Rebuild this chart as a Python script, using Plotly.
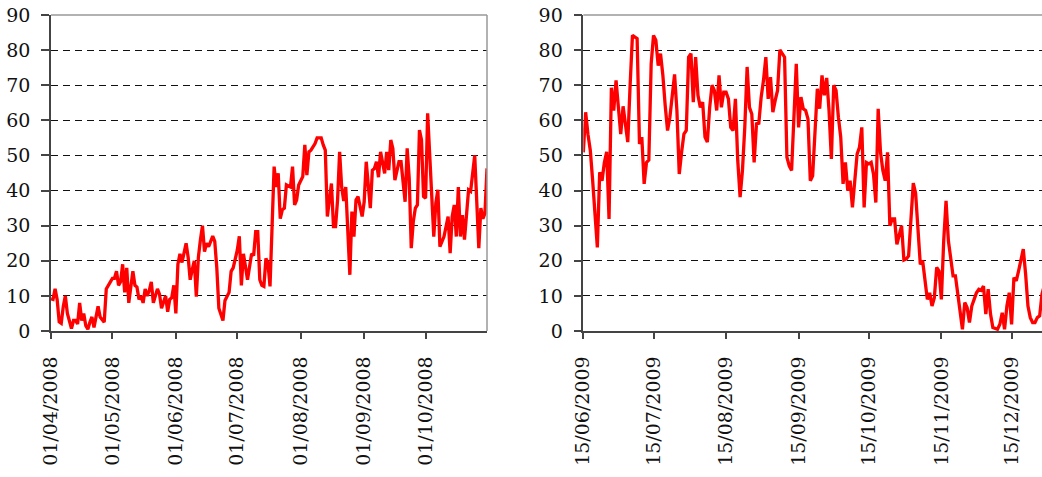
import pandas as pd
import plotly.graph_objects as go

# ---- data ----
left_start = "2008-04-01"
left_day = [0,1,2,3,4,5,6,7,8,9,10,11,12,13,14,15,16,17,18,19,20,21,23,24,26,27,28,30,31,32,33,34,35,36,37,38,40,41,42,43,44,45,46,47,48,49,50,52,53,54,56,57,58,59,60,61,62,63,64,66,67,68,69,70,71,72,73,74,75,76,77,79,80,81,82,83,84,85,87,88,89,91,92,93,94,95,96,98,99,100,101,102,103,104,105,106,107,108,109,110,111,112,113,114,115,117,118,119,120,121,123,124,125,126,127,129,130,131,132,133,134,135,137,138,139,140,141,142,143,144,145,146,147,148,149,150,152,153,154,156,157,158,159,160,161,163,164,165,166,167,168,170,171,173,174,175,176,177,178,179,180,181,182,183,184,186,187,188,189,190,192,194,195,196,197,198,199,200,201,202,203,204,205,207,209,210,211,212,213]
left_val = [9.2,9,12,9,2.6,2.2,7,10,5,3,0.7,3,3,2,8,3,5,1.5,0.5,2.5,4,1,7,4,2.5,12,13,15,15,17,13,14,19,11,18,8,17,13,12.5,9,10,8,12,10,11.5,14,8,12,10.5,6.5,10,5.5,9,9.5,13,5,19,22,19.5,25,21,14.6,17.5,20,9.8,21,26,30,22.6,25,24,27,25.5,18,6.5,5,3,8.7,11,17,18,23,27,13,22,18.4,14.6,22,21.5,28.3,28.3,14.6,13,12.7,20.7,19.3,12.7,29.7,46.8,41,44.9,32,34.5,35,41.6,41,46.8,35.9,37.3,41.6,44,53,44.4,51,51.5,53.4,55,55,55,53,51.5,32.6,42,29.7,29.7,37.3,51,41,37,41,26,16,34,26.9,37.3,38.3,32.6,36.8,48.2,35,45.8,46.3,48.2,43.8,51,44.9,51,45.8,54.4,52,43,48.2,48.2,36.8,52,43.5,23.6,31.2,35,35.9,57.2,54.4,38.3,37.8,62,36.4,26.9,36.4,40.2,24,26.9,32.6,22.2,32.6,35.9,26.9,41,26.9,33,26,32.6,40.2,39.8,50,23.6,35,32,33.5,46.3]

right_start = "2009-06-15"
right_day = [0,1,2,3,4,6,7,8,9,10,11,12,13,14,15,16,17,18,19,20,21,23,24,25,26,27,28,29,30,31,32,33,34,35,36,37,38,39,40,41,42,43,44,45,46,47,48,49,50,51,52,53,54,55,56,57,58,59,60,61,62,63,64,65,66,67,68,69,70,71,72,73,74,75,76,77,78,79,80,81,82,83,84,85,86,87,88,89,91,92,93,94,95,96,97,98,100,101,102,103,104,105,106,107,108,109,110,111,112,113,114,115,116,117,118,119,120,121,122,123,124,125,126,127,128,129,130,131,132,133,134,135,136,137,138,139,140,141,142,143,144,145,146,147,148,149,150,151,152,153,154,155,156,157,158,159,160,161,162,163,164,165,166,167,168,169,170,171,172,173,174,175,177,178,179,180,181,182,183,184,185,186,187,188,189,190,191,192,193,194,195,196,197]
right_val = [50.9,62.3,56,51.4,42.8,23.8,45.2,42.8,48,51,31.9,69.3,62.8,71.4,63.7,56.1,64,58,53.8,70,84.2,83.3,53.3,55.2,41.9,48,48.7,76.1,84.2,82.8,75.6,79,72.8,64.2,57.1,60.9,66.6,73.1,62.8,44.7,50.9,56.1,57.1,78,79,65.2,78,67.1,63.7,65.2,55.2,53.8,63.7,70,68.5,62.8,72.8,63.7,68,68,66.1,58,57.1,66.1,48.5,38.1,45.7,58,75.2,63.7,61.8,48,59,59.2,66.6,71.4,78,66.1,72.3,62.3,65.7,68.5,80.1,79,78,49.5,47,45.7,76.1,58,66.6,63.3,62.8,60.4,42.8,44.2,69,63.3,72.8,67.1,72.1,62.8,49,70,68.5,60.9,55.2,41.9,48,40,42.8,35.2,43.8,50.4,52.3,58,35.2,48,47.6,48,44.7,36.6,63.3,50.9,45.7,42.8,50.9,30,31.9,31.9,24.7,27.1,30,20.2,20.5,21.4,33.3,42.1,39.2,27.6,19,20,15.2,9,10.9,7.1,9.5,18.1,17.1,9,25.7,37.1,25.7,20.9,15.7,15.7,10.9,5.7,0.5,8.1,6.7,2.4,7.1,9,10.9,11.9,11.6,12.8,4.8,11.9,4.8,1,0.5,1.9,5.2,0.5,7.1,10.9,1.9,15.2,14.3,17.1,20.5,23.3,16.2,7.1,3.8,2.4,2.4,3.8,4.3,10.5,13]

y_ticks = [0, 10, 20, 30, 40, 50, 60, 70, 80, 90]

left_dates = pd.Timestamp(left_start) + pd.to_timedelta(left_day, unit="D")
right_dates = pd.Timestamp(right_start) + pd.to_timedelta(right_day, unit="D")

W, H = 1042, 477
ML, MR, MT, MB = 51, 0, 15, 146
PW = W - ML - MR
left_dom = [0, 436 / PW]
right_dom = [532.3 / PW, 1.0]

RED = "#FF0000"
FONT = "DejaVu Serif"

fig = go.Figure()
fig.add_trace(go.Scatter(x=left_dates, y=left_val, mode="lines",
                         line=dict(color=RED, width=3.3), xaxis="x", yaxis="y",
                         showlegend=False, hoverinfo="skip"))
fig.add_trace(go.Scatter(x=right_dates, y=right_val, mode="lines",
                         line=dict(color=RED, width=3.3), xaxis="x2", yaxis="y2",
                         showlegend=False, hoverinfo="skip"))

xcommon = dict(type="date", dtick="M1", tickformat="%d/%m/%Y", tickangle=-90,
               ticks="outside", ticklen=6, tickcolor="#444", tickwidth=1.5,
               showline=True, linecolor="#444", linewidth=1.5,
               showgrid=False, zeroline=False, ticklabeloverflow="allow",
               tickfont=dict(family=FONT, size=19, color="#111"),
               ticklabelstandoff=10)
ycommon = dict(range=[0, 90], tickvals=y_ticks, ticks="outside", ticklen=8,
               tickcolor="#444", tickwidth=1.5,
               showline=True, linecolor="#444", linewidth=1.5,
               showgrid=True, gridcolor="#111", gridwidth=1, griddash="7px,5px",
               zeroline=False, ticklabeloverflow="allow",
               tickfont=dict(family=FONT, size=19, color="#111"),
               ticklabelstandoff=7)

fig.update_layout(
    width=W, height=H,
    margin=dict(l=ML, r=MR, t=MT, b=MB, autoexpand=False),
    paper_bgcolor="white", plot_bgcolor="white",
    font=dict(family=FONT),
    xaxis=dict(domain=left_dom, anchor="y", range=["2008-04-01", "2008-10-31"],
               tick0="2008-04-01", **xcommon),
    yaxis=dict(domain=[0, 1], anchor="x", **ycommon),
    xaxis2=dict(domain=right_dom, anchor="y2", range=["2009-06-15", "2009-12-28"],
                tick0="2009-06-15", **xcommon),
    yaxis2=dict(domain=[0, 1], anchor="x2", **ycommon),
    shapes=[
        dict(type="line", xref="paper", yref="paper", x0=left_dom[0], x1=left_dom[1],
             y0=1, y1=1, line=dict(color="#999", width=1.5)),
        dict(type="line", xref="paper", yref="paper", x0=left_dom[1], x1=left_dom[1],
             y0=0, y1=1, line=dict(color="#999", width=1.5)),
        dict(type="line", xref="paper", yref="paper", x0=right_dom[0], x1=right_dom[1],
             y0=1, y1=1, line=dict(color="#999", width=1.5)),
    ],
)

# remove the page's default 8px body margin so the figure fills the window exactly
fig.write_html("out.html", config={"displayModeBar": False},
               post_script="document.body.style.margin='0px';")
